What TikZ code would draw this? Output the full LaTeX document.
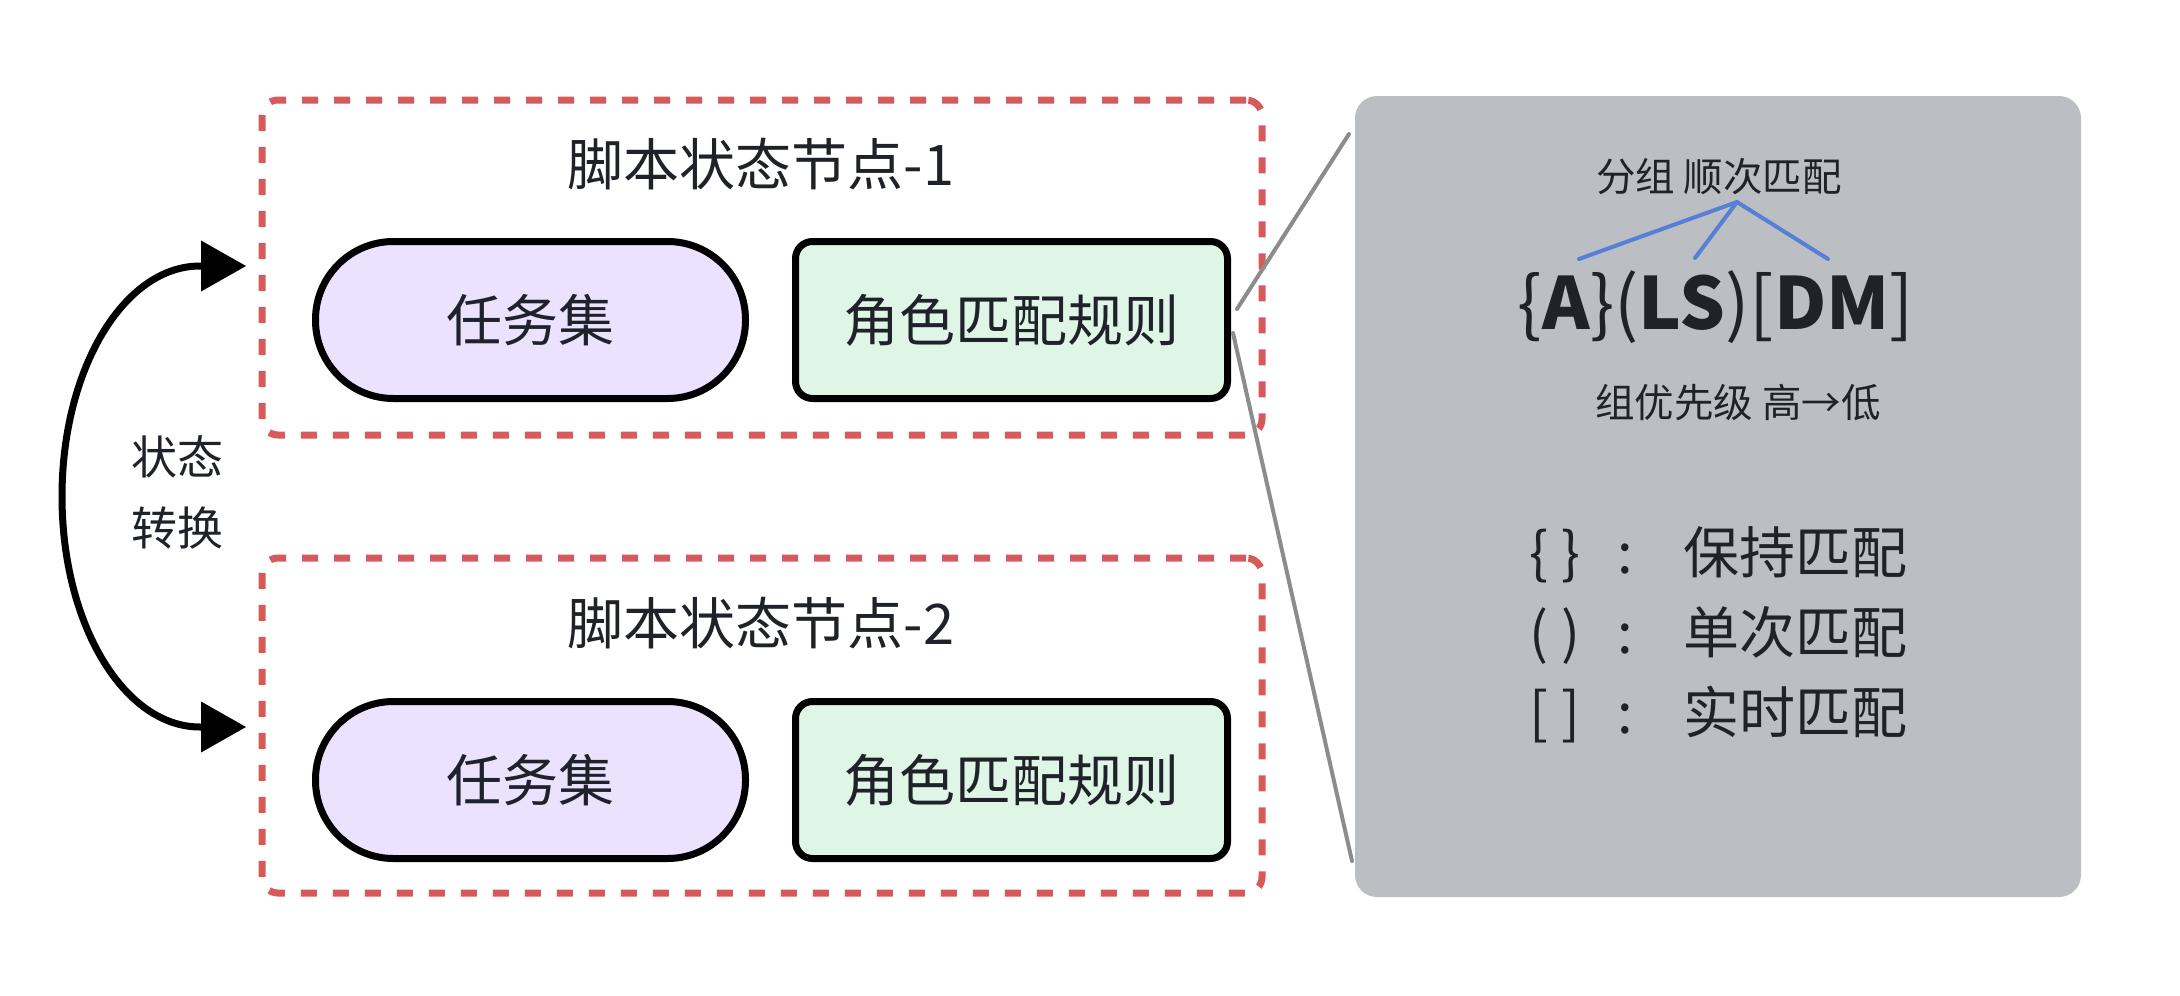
\documentclass[tikz,border=0pt]{standalone}
\usepackage{fontspec}
\setmainfont{Noto Sans CJK SC}
\usetikzlibrary{arrows.meta}
\definecolor{redc}{HTML}{D65A5A}
\definecolor{taskfill}{HTML}{EAE2FE}
\definecolor{rulefill}{HTML}{DFF5E6}
\definecolor{panelc}{HTML}{BBBEC3}
\definecolor{textc}{HTML}{1F2329}
\definecolor{bluec}{HTML}{5580D5}
\definecolor{grayline}{HTML}{8C8C8C}
\newcommand\bigfont{\fontsize{56}{67}\selectfont}
\newcommand\smallfont{\fontsize{39.5}{47}\selectfont}
\newcommand\labelfont{\fontsize{46}{71}\selectfont}
\newcommand\codefont{\fontsize{72}{84}\selectfont}
\begin{document}
\begin{tikzpicture}[x=1pt,y=-1pt,
  every node/.style={text=textc, inner sep=0pt, outer sep=0pt},
  redbox/.style={draw=redc, line width=7pt, dash pattern=on 16pt off 16pt, rounded corners=16pt, minimum width=1000pt, minimum height=335pt},
  taskbox/.style={draw=black, line width=7pt, fill=taskfill, rounded corners=78pt, minimum width=430pt, minimum height=157pt, font=\bigfont},
  rulebox/.style={draw=black, line width=7pt, fill=rulefill, rounded corners=17pt, minimum width=432pt, minimum height=157pt, font=\bigfont},
  titletext/.style={font=\bigfont},
  grayconn/.style={draw=grayline, line width=4pt, line cap=round},
  blueconn/.style={draw=bluec, line width=4pt, line cap=round},
  keytext/.style={font=\bigfont, anchor=base}
]
\useasboundingbox (0,0) rectangle (2180,996);

% state node containers
\node[redbox] (sn1) at (762,267.5) {};
\node[redbox] (sn2) at (762,725.5) {};
\node[titletext] (t1) at (761,164) {脚本状态节点-1};
\node[titletext] (t2) at (761,623) {脚本状态节点-2};
\node[taskbox] (task1) at (530.5,320) {任务集};
\node[rulebox] (rule1) at (1011.5,320) {角色匹配规则};
\node[taskbox] (task2) at (530.5,780) {任务集};
\node[rulebox] (rule2) at (1011.5,780) {角色匹配规则};

% state transition arrow
\coordinate (a1) at (246,266);
\coordinate (a2) at (246,727);
\draw[line width=7pt, {Triangle[length=45pt,width=51pt,line width=0pt]}-{Triangle[length=45pt,width=51pt,line width=0pt]}]
  (a1) -- (200,266) .. controls (123.8,266) and (62,369.2) .. (62,496.5)
  .. controls (62,623.8) and (123.8,727) .. (200,727) -- (a2);
\node[font=\labelfont, align=center] (lbl) at (177,492) {状态\\转换};

% detail panel
\node[fill=panelc, rounded corners=22pt, minimum width=726pt, minimum height=801pt] (panel) at (1718,496.5) {};
\coordinate (g1a) at (1237,309);
\coordinate (g1b) at (1349,134);
\coordinate (g2a) at (1233,333);
\coordinate (g2b) at (1352,861);
\draw[grayconn] (g1a) -- (g1b);
\draw[grayconn] (g2a) -- (g2b);

\node[font=\smallfont] (grp) at (1719,177) {分组 顺次匹配};
\coordinate (bapex) at (1737,202);
\coordinate (b1) at (1579,259);
\coordinate (b2) at (1695,258);
\coordinate (b3) at (1828,259);
\draw[blueconn] (b1) -- (bapex) -- (b3);
\draw[blueconn] (bapex) -- (b2);
\node[font=\codefont, anchor=base] (code) at (1716,329) {\{\textbf{A}\}(\textbf{LS})[\textbf{DM}]};
\node[font=\smallfont] (prio) at (1738,403) {组优先级 高→低};

% legend
\node[keytext] (k1) at (1555,573) {\{ \}};
\node[keytext] (c1) at (1625,573) {:};
\node[keytext, anchor=base west] (d1) at (1683,573) {保持匹配};
\node[keytext] (k2) at (1555,653) {( )};
\node[keytext] (c2) at (1625,653) {:};
\node[keytext, anchor=base west] (d2) at (1683,653) {单次匹配};
\node[keytext] (k3) at (1555,733) {[ ]};
\node[keytext] (c3) at (1625,733) {:};
\node[keytext, anchor=base west] (d3) at (1683,733) {实时匹配};
\end{tikzpicture}
\end{document}
